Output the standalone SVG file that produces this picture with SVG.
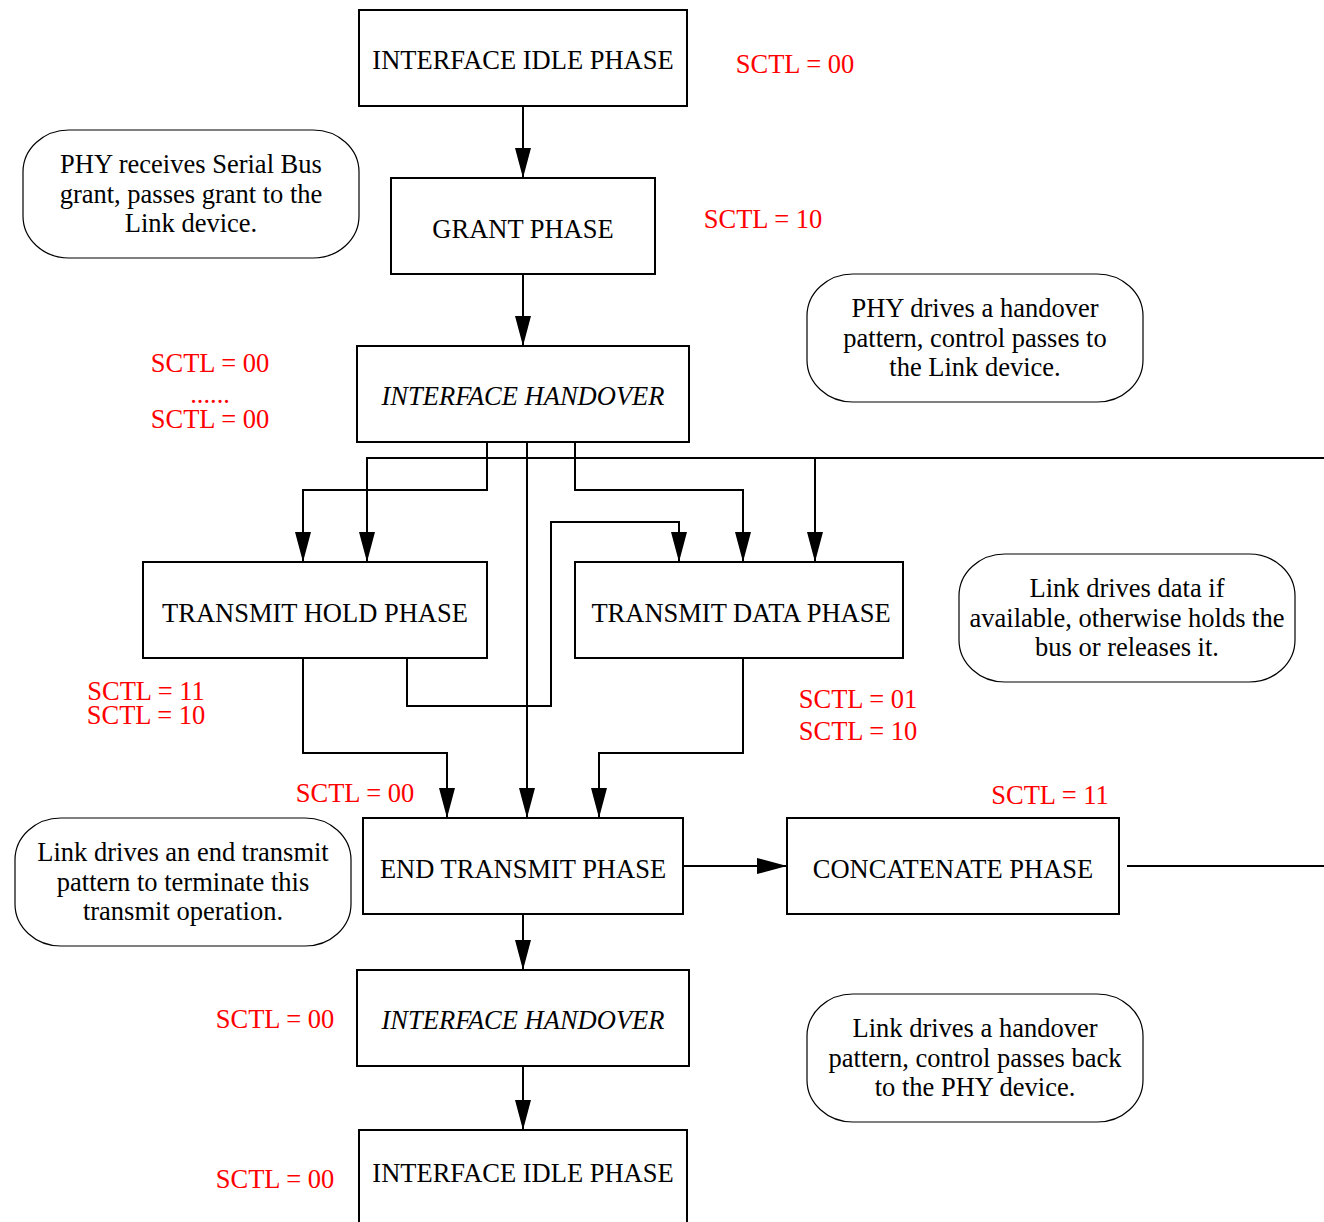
<svg xmlns="http://www.w3.org/2000/svg" width="1324" height="1222" viewBox="0 0 1324 1222">
<style>
.box{fill:#fff;stroke:#000;stroke-width:2}
.call{fill:#fff;stroke:#000;stroke-width:1.2}
.t{font-family:"Liberation Serif","Times New Roman",serif;font-size:26.5px;fill:#000;text-anchor:middle}
.i{font-style:italic}
.r{font-family:"Liberation Serif","Times New Roman",serif;font-size:26.5px;fill:#ff0000;text-anchor:middle}
.c{fill:none;stroke:#000;stroke-width:2}
</style>
<defs>
<marker id="ah" markerWidth="30" markerHeight="16" refX="30" refY="8" orient="auto" markerUnits="userSpaceOnUse">
<path d="M0,0 L30,8 L0,16 Z" fill="#000"/>
</marker>
</defs>
<rect width="1324" height="1222" fill="#fff"/>
<g id="connectors">
<path class="c" d="M523,106 V178" marker-end="url(#ah)"/>
<path class="c" d="M523,274 V346" marker-end="url(#ah)"/>
<path class="c" d="M487,442 V490 H303 V562" marker-end="url(#ah)"/>
<path class="c" d="M575,442 V490 H743 V562" marker-end="url(#ah)"/>
<path class="c" d="M527,442 V818" marker-end="url(#ah)"/>
<path class="c" d="M1324,458 H367 V562" marker-end="url(#ah)"/>
<path class="c" d="M815,458 V562" marker-end="url(#ah)"/>
<path class="c" d="M407,658 V706 H551 V522 H679 V562" marker-end="url(#ah)"/>
<path class="c" d="M303,658 V753 H447 V818" marker-end="url(#ah)"/>
<path class="c" d="M743,658 V753 H599 V818" marker-end="url(#ah)"/>
<path class="c" d="M683,866 H787" marker-end="url(#ah)"/>
<path class="c" d="M1127,866 H1324"/>
<path class="c" d="M523,914 V970" marker-end="url(#ah)"/>
<path class="c" d="M523,1066 V1130" marker-end="url(#ah)"/>
</g>
<g id="idle1"><rect class="box" x="359" y="10" width="328" height="96"/><text class="t" x="523" y="69">INTERFACE IDLE PHASE</text></g>
<g id="grant"><rect class="box" x="391" y="178" width="264" height="96"/><text class="t" x="523" y="238">GRANT PHASE</text></g>
<g id="handover1"><rect class="box" x="357" y="346" width="332" height="96"/><text class="t i" x="523" y="405">INTERFACE HANDOVER</text></g>
<g id="hold"><rect class="box" x="143" y="562" width="344" height="96"/><text class="t" x="315" y="622">TRANSMIT HOLD PHASE</text></g>
<g id="data"><rect class="box" x="575" y="562" width="328" height="96"/><text class="t" x="741" y="622">TRANSMIT DATA PHASE</text></g>
<g id="endtx"><rect class="box" x="363" y="818" width="320" height="96"/><text class="t" x="523" y="878">END TRANSMIT PHASE</text></g>
<g id="concat"><rect class="box" x="787" y="818" width="332" height="96"/><text class="t" x="953" y="878">CONCATENATE PHASE</text></g>
<g id="handover2"><rect class="box" x="357" y="970" width="332" height="96"/><text class="t i" x="523" y="1029">INTERFACE HANDOVER</text></g>
<g id="idle2"><rect class="box" x="359" y="1130" width="328" height="100"/><text class="t" x="523" y="1182">INTERFACE IDLE PHASE</text></g>
<g id="note1"><rect class="call" x="23" y="130" width="336" height="128" rx="46" ry="42"/>
<text class="t" x="191" y="173">PHY receives Serial Bus</text><text class="t" x="191" y="203">grant, passes grant to the</text><text class="t" x="191" y="232">Link device.</text></g>
<g id="note2"><rect class="call" x="807" y="274" width="336" height="128" rx="46" ry="42"/>
<text class="t" x="975" y="317">PHY drives a handover</text><text class="t" x="975" y="347">pattern, control passes to</text><text class="t" x="975" y="376">the Link device.</text></g>
<g id="note3"><rect class="call" x="959" y="554" width="336" height="128" rx="46" ry="42"/>
<text class="t" x="1127" y="597">Link drives data if</text><text class="t" x="1127" y="627">available, otherwise holds the</text><text class="t" x="1127" y="656">bus or releases it.</text></g>
<g id="note4"><rect class="call" x="15" y="818" width="336" height="128" rx="46" ry="42"/>
<text class="t" x="183" y="861">Link drives an end transmit</text><text class="t" x="183" y="891">pattern to terminate this</text><text class="t" x="183" y="920">transmit operation.</text></g>
<g id="note5"><rect class="call" x="807" y="994" width="336" height="128" rx="46" ry="42"/>
<text class="t" x="975" y="1037">Link drives a handover</text><text class="t" x="975" y="1067">pattern, control passes back</text><text class="t" x="975" y="1096">to the PHY device.</text></g>
<g id="labels">
<text class="r" x="795" y="73">SCTL = 00</text>
<text class="r" x="763" y="228">SCTL = 10</text>
<text class="r" x="210" y="372">SCTL = 00</text>
<text class="r" x="210" y="403">......</text>
<text class="r" x="210" y="428">SCTL = 00</text>
<text class="r" x="146" y="700">SCTL = 11</text>
<text class="r" x="146" y="724">SCTL = 10</text>
<text class="r" x="355" y="802">SCTL = 00</text>
<text class="r" x="858" y="708">SCTL = 01</text>
<text class="r" x="858" y="740">SCTL = 10</text>
<text class="r" x="1050" y="804">SCTL = 11</text>
<text class="r" x="275" y="1028">SCTL = 00</text>
<text class="r" x="275" y="1188">SCTL = 00</text>
</g>
</svg>
